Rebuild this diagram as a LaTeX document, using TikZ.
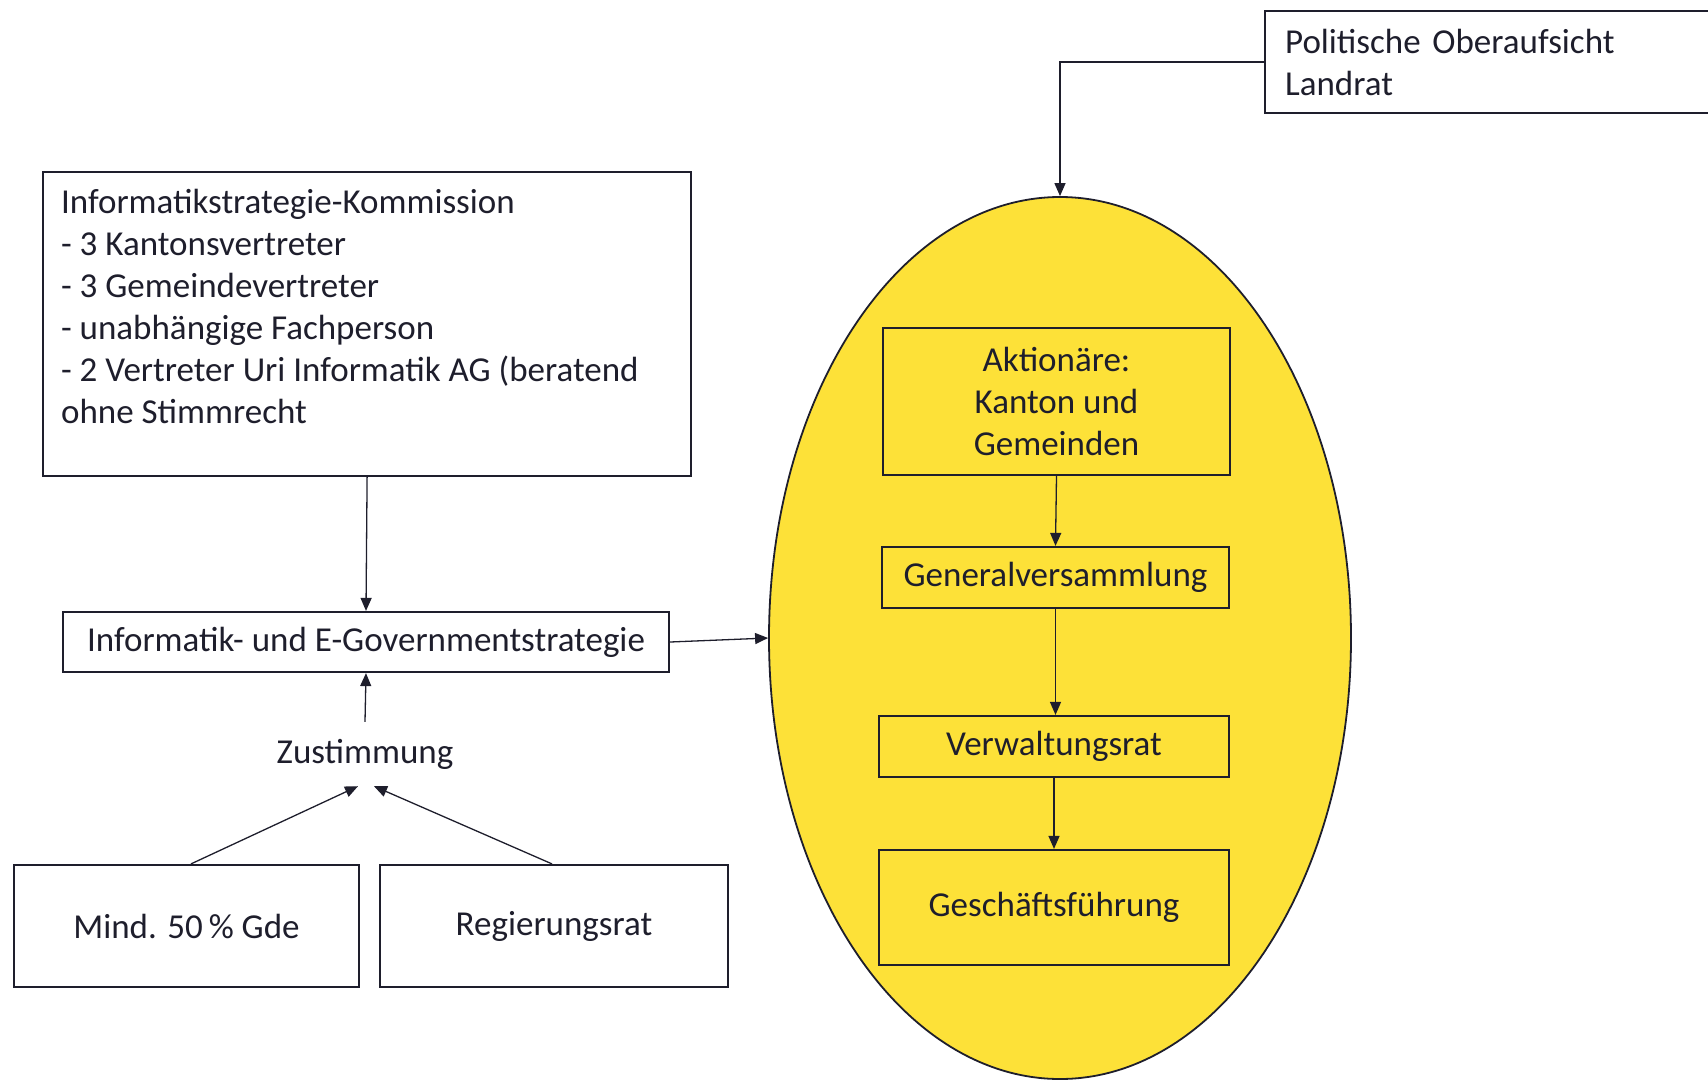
\documentclass[tikz,border=0pt]{standalone}
\usepackage{fontspec}
\setmainfont{Carlito}
\usetikzlibrary{arrows.meta}
\usetikzlibrary{shapes.geometric}
\usetikzlibrary{positioning}
\definecolor{ink}{RGB}{30,30,44}
\definecolor{gelb}{RGB}{253,225,56}

\begin{document}
\begin{tikzpicture}[x=1pt,y=-1pt,font=\fontsize{35}{42}\selectfont,text=ink,
					pfeil/.style={draw=ink,line width=1.3pt,-{Triangle[length=13pt,width=11pt]}},
					kasten/.style={draw=ink,line width=2.2pt,rectangle,inner sep=0pt,align=center},
					gkasten/.style={kasten,fill=gelb}]
					\useasboundingbox (0,0) rectangle (1708,1079);
					
					% linke Seite
					\node[kasten,anchor=north west,minimum width=648pt,minimum height=304pt] (komm) at (42,171)
						{\begin{minipage}[t][270pt][t]{612pt}\raggedright
						Informatikstrategie-Kommission\\
						- 3 Kantonsvertreter\\
						- 3 Gemeindevertreter\\
						- unabhängige Fachperson\\
						- 2 Vertreter Uri Informatik AG (beratend\\
						ohne Stimmrecht\end{minipage}};
					\node[kasten,minimum width=606pt,minimum height=60pt] (strat) at (366,642) {Informatik- und E-Governmentstrategie};
					\node[inner sep=0pt,minimum height=64pt] (zust) at (365,754) {Zustimmung};
					\node[kasten,minimum width=345pt,minimum height=122pt] (mind) at (186.5,926) {Mind. 50\,\% Gde};
					\node[kasten,minimum width=348pt,minimum height=122pt] (regrat) at (554,926) {Regierungsrat};
					
					% rechte Seite
					\node[draw=ink,line width=1.8pt,fill=gelb,ellipse,minimum width=582pt,minimum height=882pt] (ag) at (1060,638) {};
					\node[kasten,anchor=north west,minimum width=480pt,minimum height=102pt,align=left,text width=440pt] (landrat) at (1264,10)
						{Politische Oberaufsicht\\Landrat};
					\node[gkasten,minimum width=347pt,minimum height=147pt] (aktion) at (1056.5,401.5) {Aktionäre:\\Kanton und\\Gemeinden};
					\node[gkasten,minimum width=347pt,minimum height=61pt] (gv) at (1055.5,577.5) {Generalversammlung};
					\node[gkasten,minimum width=350pt,minimum height=61pt] (vr) at (1054,746.5) {Verwaltungsrat};
					\node[gkasten,minimum width=350pt,minimum height=115pt] (gf) at (1054,907.5) {Geschäftsführung};
					
					\path[pfeil] (landrat.west) -| (ag.north);
					\path[pfeil] (komm.south) -- (strat.north);
					\path[pfeil] (strat.east) -- (ag.west);
					\path[pfeil] (zust.north) -- (strat.south);
					\path[pfeil] ([xshift=4.5pt]mind.north) -- ([xshift=-7pt]zust.south);
					\path[pfeil] ([xshift=-2pt]regrat.north) -- ([xshift=9pt]zust.south);
					\path[pfeil] (aktion.south) -- (gv.north);
					\path[pfeil] (gv.south) -- ([xshift=1.5pt]vr.north);
					\path[pfeil] (vr.south) -- (gf.north);
\end{tikzpicture}
\end{document}
